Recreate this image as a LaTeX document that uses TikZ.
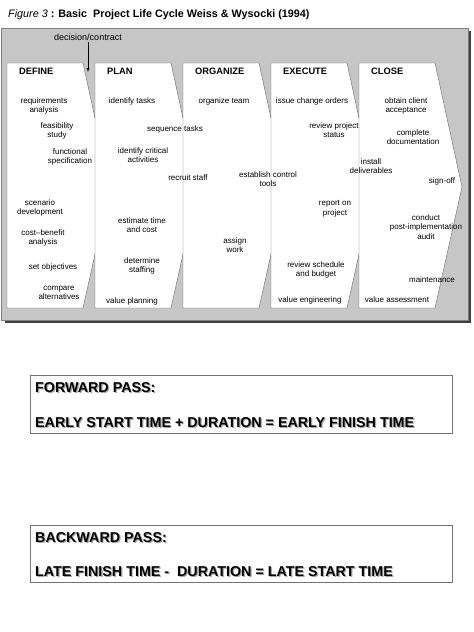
\documentclass[tikz,border=0pt]{standalone}
\usepackage{fontspec}
\setmainfont{Liberation Sans}
\usepackage{tikz}
\definecolor{framegray}{RGB}{198,198,198}
\newcommand{\shtext}[1]{\rlap{\kern1.2pt\raisebox{-1.2pt}{\textcolor{black!35}{#1}}}#1}

\begin{document}
\begin{tikzpicture}[x=1pt,y=-1pt,
    item/.style={align=center,inner sep=0pt,font=\fontsize{8}{9.6}\selectfont},
    phase/.style={anchor=west,inner sep=0pt,font=\bfseries\fontsize{9.3}{10}\selectfont},
    passtext/.style={anchor=base west,inner sep=0pt,font=\bfseries\fontsize{14.3}{16}\selectfont}]
    \useasboundingbox (0,0) rectangle (474,632);
    \node[anchor=base west,inner sep=0pt,font=\fontsize{10.8}{12}\selectfont] (title) at (8,17.5)
      {\textit{Figure 3} \textbf{: Basic\ \ Project Life Cycle Weiss \& Wysocki (1994)}};
    \begin{scope}
      \fill[black!75] (5,31) rectangle (471,323);
      \draw[fill=framegray,draw=black!50] (1,28) rectangle (468,320);
      \foreach \px/\lbl [count=\i] in {7/DEFINE,95/PLAN,183/ORGANIZE,271/EXECUTE,359/CLOSE}{
        \draw[fill=white,draw=black!60] (\px,63) -- (\px+76,63) -- (\px+103,187) -- (\px+76,308) -- (\px,308) -- cycle;
        \node[phase] (phase\i) at (\px+12,71) {\lbl};
       }
      \foreach \px/\py/\txt [count=\k] in {
          44/106/{requirements\\analysis}, 57/131/{feasibility\\study},
          70/157/{functional\\specification}, 40/208/{scenario\\development},
          43/238/{cost--benefit\\analysis}, 53/267/{set objectives},
          59/293/{compare\\alternatives},
          132/101/{identify tasks}, 175/129/{sequence tasks},
          143/155/{identify critical\\activities}, 188/178/{recruit staff},
          142/225/{estimate time\\and cost}, 142/266/{determine\\staffing},
          132/301/{value planning},
          224/101/{organize team}, 268/179/{establish control\\tools},
          235/245/{assign\\work},
          312/101/{issue change orders}, 334/130/{review project\\status},
          371/166/{install\\deliverables}, 335/209/{report on\\project},
          316/270/{review schedule\\and budget}, 310/300/{value engineering},
          406/106/{obtain client\\acceptance}, 413/137/{complete\\documentation},
          442/181/{sign-off}, 426/227/{conduct\\post-implementation\\audit},
          432/280/{maintenance}, 397/300/{value assessment}}{
        \node[item] (item\k) at (\px,\py) {\txt};
       }
      \node[item,inner sep=1.5pt,font=\fontsize{9}{10}\selectfont] (decision) at (88,37) {decision/contract};
      \coordinate (tip) at (88,72);
      \draw[-latex] (decision.south) -- (tip);
    \end{scope}
    \draw[draw=black!55,line width=0.8pt] (30,375) rectangle (452,433);
    \draw[draw=black!55,line width=0.8pt] (30,525) rectangle (452,582);
    \node[passtext] (fwdhead) at (35,392) {\shtext{FORWARD PASS:}};
    \node[passtext] (fwdrule) at (35,427) {\shtext{EARLY START TIME + DURATION = EARLY FINISH TIME}};
    \node[passtext] (bwdhead) at (35,542) {\shtext{BACKWARD PASS:}};
    \node[passtext] (bwdrule) at (35,576) {\shtext{LATE FINISH TIME -\ \ DURATION = LATE START TIME}};
  \end{tikzpicture}
\end{document}
